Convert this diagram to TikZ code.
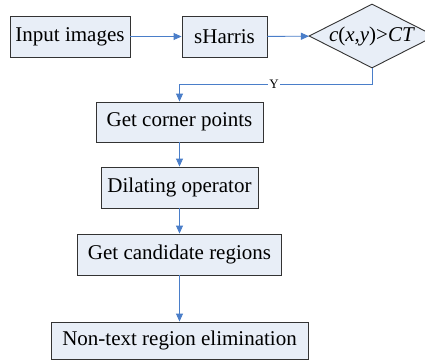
\documentclass[tikz,border=0pt]{standalone}
\usepackage{fontspec}
\setmainfont{Liberation Serif}
\newfontfamily\boxfont{Liberation Serif}
\usetikzlibrary{shapes.geometric,arrows.meta}
\definecolor{boxfill}{HTML}{E8EEF7}
\definecolor{boxline}{HTML}{333333}
\definecolor{flow}{HTML}{4A7EC9}
\begin{document}
\begin{tikzpicture}[x=1pt,y=-1pt,
  stepbox/.style={draw=boxline,fill=boxfill,line width=0.9pt,inner sep=0pt,
    font=\boxfont\fontsize{21}{25}\selectfont},
  flowline/.style={draw=flow,line width=0.9pt,-{Triangle[length=8pt,width=7pt]}}]
\useasboundingbox (0,0) rectangle (425,360);
\clip (0,0) rectangle (425,360);
\fill[white] (0,0) rectangle (425,360);

\node[stepbox,minimum width=120pt,minimum height=41pt] (in) at (70,36.5) {Input images};
\node[stepbox,minimum width=85pt,minimum height=41pt] (sh) at (224.5,36.5) {sHarris};
\node[diamond,draw=boxline,fill=boxfill,line width=0.9pt,inner sep=0pt,
  minimum width=126pt,minimum height=64pt] (dia) at (372,36) {};
\node[font=\boxfont\fontsize{21}{25}\selectfont] (diatext) at (dia.center)
  {\textit{c}(\textit{x},\textit{y})>\textit{CT}};

\node[stepbox,minimum width=167pt,minimum height=40pt] (gcp) at (179.5,122) {Get corner points};
\node[stepbox,minimum width=157pt,minimum height=41pt] (dil) at (179.5,187.5) {Dilating operator};
\node[stepbox,minimum width=204pt,minimum height=41pt] (gcr) at (179.5,254.5) {Get candidate regions};
\node[stepbox,minimum width=257pt,minimum height=37pt] (nte) at (179.5,340.5) {Non-text region elimination};

\coordinate (yr) at (372,84);
\coordinate (yl) at (179.5,84);

\draw[flowline] (in) -- (sh);
\draw[flowline] (sh) -- (dia);
\draw[flowline] (dia.south) -- (yr) -- (yl) -- (gcp.north);
\node[fill=white,inner sep=1.5pt,font=\boxfont\fontsize{13}{14}\selectfont] (ylab) at (274,84) {Y};
\draw[flowline] (gcp) -- (dil);
\draw[flowline] (dil) -- (gcr);
\draw[flowline] (gcr) -- (nte);
\end{tikzpicture}
\end{document}
